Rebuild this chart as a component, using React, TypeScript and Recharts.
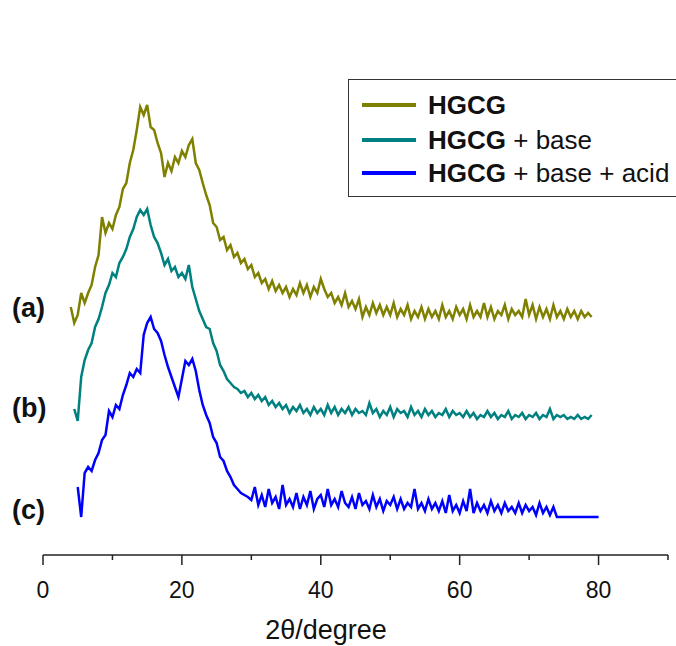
import { LineChart, Line, XAxis, YAxis, Legend } from 'recharts';

const angleStart = 4;
const angleStep = 0.5;

// (a) HGCG, one value per 0.5 deg from 4.0 to 80.0
const hgcg = [
  248, 232, 240, 262, 252, 262, 270, 288, 300, 338,
  322, 332, 326, 340, 348, 366, 372, 392, 405, 425,
  448, 440, 450, 428, 425, 412, 402, 378, 392, 384,
  398, 392, 404, 398, 410, 416, 392, 385, 372, 360,
  350, 332, 328, 315, 318, 305, 310, 298, 302, 292,
  296, 286, 290, 278, 282, 272, 276, 266, 274, 264,
  270, 262, 268, 258, 266, 260, 272, 262, 270, 258,
  268, 262, 276, 266, 258, 262, 252, 258, 250, 262,
  248, 254, 246, 256, 238, 248, 240, 252, 242, 250,
  240, 248, 240, 252, 238, 246, 240, 250, 236, 244,
  238, 248, 236, 246, 238, 244, 236, 250, 238, 244,
  236, 248, 240, 246, 236, 250, 238, 244, 238, 252,
  238, 248, 236, 244, 240, 250, 236, 246, 240, 244,
  238, 256, 240, 250, 236, 248, 238, 246, 236, 250,
  238, 244, 236, 246, 238, 244, 236, 244, 238, 242,
  238, null, null,
];

// (b) HGCG + base
const hgcgBase = [
  null, 146, 134, 178, 195, 205, 212, 228, 236, 248,
  262, 270, 282, 278, 292, 298, 306, 318, 326, 338,
  345, 340, 346, 330, 318, 312, 302, 290, 296, 284,
  288, 278, 282, 276, 290, 268, 256, 244, 236, 228,
  226, 212, 204, 190, 184, 176, 172, 168, 166, 162,
  164, 158, 162, 156, 160, 154, 158, 150, 154, 148,
  152, 146, 150, 142, 148, 144, 150, 142, 146, 140,
  148, 142, 146, 140, 150, 142, 148, 140, 146, 142,
  148, 140, 146, 142, 144, 140, 152, 142, 146, 138,
  144, 140, 148, 138, 146, 142, 144, 138, 148, 140,
  144, 138, 146, 140, 144, 138, 142, 140, 146, 138,
  144, 140, 142, 138, 144, 138, 142, 136, 140, 138,
  144, 138, 142, 136, 140, 138, 144, 136, 140, 138,
  142, 136, 140, 138, 142, 136, 140, 138, 146, 136,
  140, 138, 140, 136, 138, 136, 140, 136, 138, 136,
  140, null, null,
];

// (c) HGCG + base + acid
const hgcgBaseAcid = [
  null, null, 68, 38, 82, 88, 84, 95, 102, 115,
  120, 144, 138, 150, 146, 160, 170, 182, 178, 186,
  182, 220, 232, 238, 226, 222, 214, 200, 188, 178,
  168, 158, 176, 194, 190, 196, 184, 165, 150, 140,
  132, 118, 112, 98, 94, 84, 78, 70, 66, 62,
  60, 58, 55, 68, 50, 60, 48, 66, 52, 58,
  46, 70, 50, 56, 48, 62, 46, 58, 50, 64,
  46, 56, 60, 48, 66, 50, 56, 48, 64, 52,
  48, 58, 46, 62, 50, 54, 46, 60, 48, 56,
  44, 54, 50, 58, 46, 56, 46, 52, 48, 66,
  46, 52, 44, 56, 46, 52, 44, 54, 42, 60,
  44, 50, 42, 54, 44, 66, 42, 52, 44, 50,
  42, 54, 44, 50, 42, 52, 44, 48, 42, 52,
  42, 50, 44, 48, 40, 52, 42, 48, 40, 48,
  38, 38, 38, 38, 38, 38, 38, 38, 38, 38,
  38, 38, 38,
];

const seriesNames = ['HGCG', 'HGCG + base', 'HGCG + base + acid'];
const seriesColors = ['#808000', '#008080', '#0000ff'];
const sideLabels = ['(a)', '(b)', '(c)'];

const xTicks = [0, 10, 20, 30, 40, 50, 60, 70, 80, 90];
const xTickLabels = ['0', '', '20', '', '40', '', '60', '', '80', ''];

const data = hgcg.map((v, i) => ({
  angle: angleStart + i * angleStep,
  a: v,
  b: hgcgBase[i],
  c: hgcgBaseAcid[i],
}));

const font = '"Liberation Sans", Arial, sans-serif';

function AxisTick(props: any) {
  const { x, y, payload } = props;
  const label = xTickLabels[xTicks.indexOf(payload.value)] ?? '';
  const major = label !== '';
  return (
    <g>
      <line x1={x} y1={y} x2={x} y2={y + (major ? 10 : 5)} stroke="#222" strokeWidth={1.5} />
      {major && (
        <text x={x} y={y + 43} textAnchor="middle" fontSize={23} fill="#111" fontFamily={font}>
          {label}
        </text>
      )}
    </g>
  );
}

function LegendBox({ payload }: any) {
  const rowCenters = [25, 60, 93];
  return (
    <div style={{ position: 'relative', width: 340, height: 118, border: '1.5px solid #333', boxSizing: 'border-box', background: '#fff', fontFamily: font, fontSize: 26, color: '#111' }}>
      {(payload || []).map((p: any, i: number) => {
        const name: string = p.value;
        const rest = name.slice(4);
        return (
          <div key={name} style={{ position: 'absolute', left: 0, top: rowCenters[i] - 16, height: 32, display: 'flex', alignItems: 'center', whiteSpace: 'nowrap' }}>
            <span style={{ display: 'inline-block', marginLeft: 13, width: 54, height: 3.5, background: p.color }} />
            <span style={{ marginLeft: 12 }}>
              <b>{name.slice(0, 4)}</b>
              {rest}
            </span>
          </div>
        );
      })}
    </div>
  );
}

export default function App() {
  return (
    <div style={{ position: 'absolute', left: 0, top: 0, width: 676, height: 646, overflow: 'hidden', background: '#fff' }}>
      <LineChart width={676} height={646} data={data} margin={{ top: 55, right: 8, bottom: 0, left: 43 }}>
        <XAxis
          dataKey="angle"
          type="number"
          domain={[0, 90]}
          ticks={xTicks}
          interval={0}
          tick={<AxisTick />}
          tickLine={false}
          tickSize={0}
          tickMargin={0}
          axisLine={{ stroke: '#222', strokeWidth: 1.5 }}
          height={91}
        />
        <YAxis hide domain={[0, 500]} />
        <Legend
          layout="horizontal"
          verticalAlign="middle"
          align="center"
          content={<LegendBox />}
          wrapperStyle={{ position: 'absolute', top: 79, left: 348, width: 340, height: 118 }}
        />
        <Line type="linear" dataKey="a" name={seriesNames[0]} stroke={seriesColors[0]} strokeWidth={2.5} dot={false} isAnimationActive={false} />
        <Line type="linear" dataKey="b" name={seriesNames[1]} stroke={seriesColors[1]} strokeWidth={2.5} dot={false} isAnimationActive={false} />
        <Line type="linear" dataKey="c" name={seriesNames[2]} stroke={seriesColors[2]} strokeWidth={2.5} dot={false} isAnimationActive={false} />
      </LineChart>
      {sideLabels.map((s, i) => (
        <div key={s} style={{ position: 'absolute', left: 12, top: [308, 408, 510][i] - 16, height: 32, lineHeight: '32px', fontFamily: font, fontWeight: 'bold', fontSize: 27, color: '#111' }}>
          {s}
        </div>
      ))}
      <div style={{ position: 'absolute', left: 226, top: 614, width: 200, height: 32, lineHeight: '32px', textAlign: 'center', fontFamily: font, fontSize: 27, color: '#111' }}>
        2θ/degree
      </div>
    </div>
  );
}
